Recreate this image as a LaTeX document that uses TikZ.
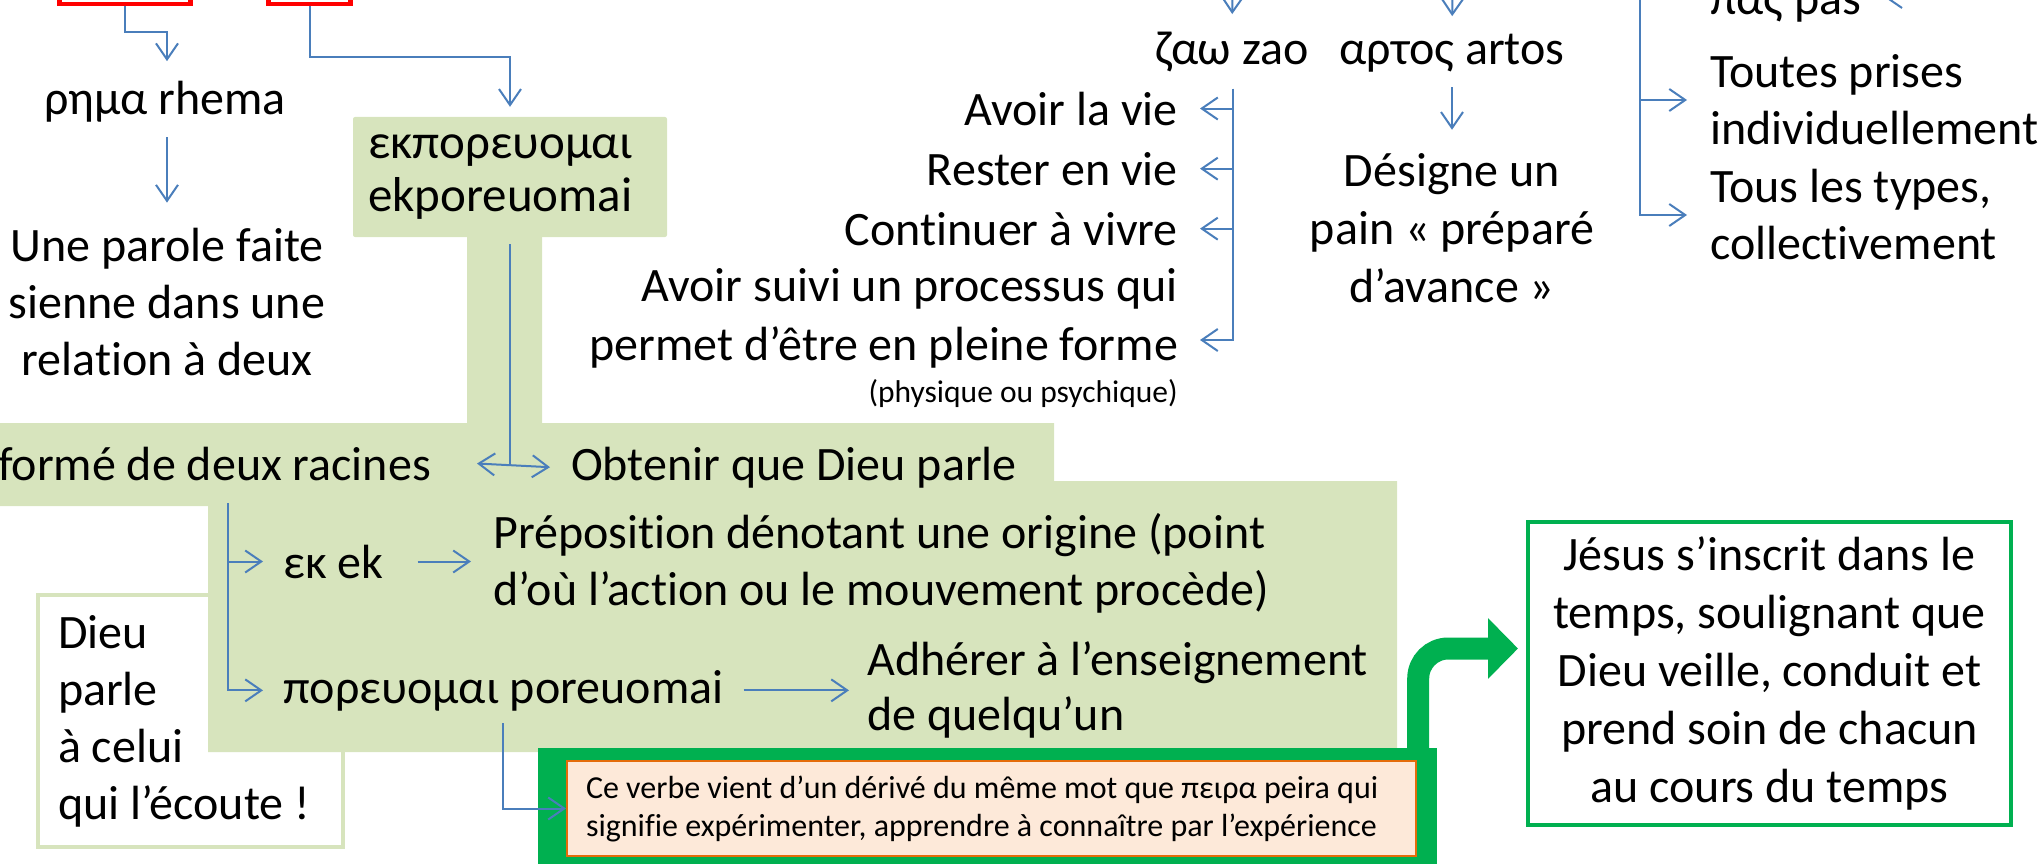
\documentclass[tikz,border=0pt]{standalone}
\usepackage{fontspec}
\setmainfont{Carlito}[Ligatures={TeX,CommonOff}]
\usetikzlibrary{positioning,arrows.meta}

\definecolor{fleche}{HTML}{4A7EBB}
\definecolor{vertpale}{HTML}{D7E4BD}
\definecolor{vertvif}{HTML}{00B050}
\definecolor{peche}{HTML}{FDE9D9}
\definecolor{orangebord}{HTML}{E46C0A}

\newcommand{\grand}{\fontsize{48}{57}\selectfont}
\newcommand{\petit}{\fontsize{32}{38}\selectfont}

\tikzset{
  conn/.style={draw=fleche,line width=2pt,-{Straight Barb[length=16pt,width=22pt,line width=2pt]}},
  connboth/.style={draw=fleche,line width=2pt,{Straight Barb[length=16pt,width=22pt,line width=2pt]}-{Straight Barb[length=16pt,width=22pt,line width=2pt]}},
  trait/.style={draw=fleche,line width=2pt},
  cadrerouge/.style={draw=red,line width=4.5pt},
  mot/.style={inner xsep=20pt},
}

\begin{document}
\begin{tikzpicture}[x=1pt,y=-1pt,font=\grand]
  \useasboundingbox (0,0) rectangle (2039,864);

  % boite blanche, sous le fond vert
  \node at (190.5,721) [draw=vertpale,line width=4pt,fill=white,minimum width=305pt,minimum height=252pt,text width=265pt,align=flush left,inner sep=0pt] (dieu) {Dieu\\parle\\à celui\\qui l’écoute !};

  % fond vert
  \fill[vertpale] (467,230) rectangle (542,430)
                  (-10,423) rectangle (1054,506)
                  (208,481) rectangle (1397,752);
  \node at (510,177) [fill=vertpale,rounded corners=2pt,minimum width=314pt,minimum height=120pt,text width=284pt,align=flush left,inner sep=0pt,font=\fontsize{49}{53}\selectfont] (ekpo) {εκπορευομαι\\ekporeuomai};

  % cadre vert et encadre orange
  \node at (987.5,814) [fill=vertvif,minimum width=899pt,minimum height=132pt,inner sep=0pt] (cadre) {};
  \node at (991.5,808.5) [fill=peche,draw=orangebord,line width=2pt,minimum width=849pt,minimum height=95pt,text width=811pt,align=flush left,inner sep=0pt,font=\petit] (verbe) {Ce verbe vient d’un dérivé du même mot que πειρα peira qui\\signifie expérimenter, apprendre à connaître par l’expérience};

  \node at (1769.5,673.5) [draw=vertvif,line width=4pt,minimum width=483pt,minimum height=303pt,align=center,inner sep=0pt,font=\fontsize{48}{58}\selectfont] (jesus) {Jésus s’inscrit dans le\\temps, soulignant que\\Dieu veille, conduit et\\prend soin de chacun\\au cours du temps};

  % mots du verset
  \node at (125,-27) [cadrerouge,minimum width=131pt,minimum height=62pt] (verset1) {};
  \node at (309.5,-27) [cadrerouge,minimum width=82pt,minimum height=62pt] (verset2) {};

  \node at (165,115) [anchor=base] (rhema) {ρημα rhema};
  \node at (167,302) [align=center] (parole) {Une parole faite\\sienne dans une\\relation à deux};
  \node at (477,480) [anchor=base east,inner xsep=46pt] (forme) {formé de deux racines};
  \node at (550,480) [anchor=base west,inner xsep=21pt] (obtenir) {Obtenir que Dieu parle};
  \node at (263,578) [anchor=base west,mot] (ek) {εκ ek};
  \node at (471,563) [anchor=west,inner xsep=22pt,align=left] (prepo) {Préposition dénotant une origine (point\\d’où l’action ou le mouvement procède)};
  \node at (263,703) [anchor=base west,mot] (poreu) {πορευομαι poreuomai};
  \node at (849,690) [anchor=west,inner xsep=18pt,align=left,font=\fontsize{48}{55}\selectfont] (adherer) {Adhérer à l’enseignement\\de quelqu’un};

  \node at (1232,65) [anchor=base] (zao) {ζαω zao};
  \node at (1452,65) [anchor=base] (artos) {αρτος artos};
  \node at (1200,125) [anchor=base east,inner xsep=22pt] (vie1) {Avoir la vie};
  \node at (1200,185) [anchor=base east,inner xsep=22pt] (vie2) {Rester en vie};
  \node at (1200,245) [anchor=base east,inner xsep=22pt] (vie3) {Continuer à vivre};
  \node at (1200,318) [anchor=east,inner xsep=22pt,align=right,font=\fontsize{48}{59}\selectfont] (vie4) {Avoir suivi un processus qui\\permet d’être en pleine forme};
  \node at (1178,402) [anchor=base east,inner sep=0pt,font=\fontsize{31.5}{36}\selectfont] (physique) {(physique ou psychique)};
  \node at (1452,228) [align=center,font=\fontsize{48}{58}\selectfont] (designe) {Désigne un\\pain « préparé\\d’avance »};
  \node at (1687,15) [anchor=base west,inner xsep=23pt] (pas) {πας pas};
  \node at (1687,100) [anchor=west,inner xsep=23pt,align=left] (toutes) {Toutes prises\\individuellement};
  \node at (1687,215) [anchor=west,inner xsep=23pt,align=left] (tous) {Tous les types,\\collectivement};

  \coordinate (zaoin) at (1233,-40);
  \coordinate (artosin) at (1453,-40);
  \coordinate (zaobar) at (1233,89);
  \coordinate (racine) at (228,503);
  \coordinate (pastop) at (1640,-40);
  \coordinate (pasin) at (1940,-3);

  \draw[conn,shorten >=17pt] (verset1.south) -- ++(0,26) -| (parole.north |- rhema.north);
  \draw[conn] (verset2.south) -- ++(0,51) -| ([yshift=10pt]ekpo.north);
  \draw[conn,shorten <=11pt] (parole.north |- rhema.south) -- ([yshift=22pt]parole.north);
  \draw[trait] ([yshift=-7pt]ekpo.south) -- (ekpo.south |- forme.east);
  \draw[connboth] (forme.east) -- (obtenir.west);
  \draw[conn] (racine) |- (ek.west);
  \draw[conn] (racine) |- (poreu.west);
  \draw[conn,shorten <=14pt] (ek.east) -- (ek.east -| prepo.west);
  \draw[conn] (poreu.east) -- (poreu.east -| adherer.west);
  \draw[conn,shorten <=9pt] (poreu.south) |- (verbe.west);

  \draw[conn,shorten >=15pt] (zaoin) -- (zao.north);
  \draw[conn,shorten >=15pt] (artosin) -- (artos.north);
  \draw[conn] (zaobar) |- (vie1.east);
  \draw[conn] (zaobar) |- (vie2.east);
  \draw[conn] (zaobar) |- (vie3.east);
  \draw[conn] (zaobar) |- ([yshift=-22pt]vie4.east);
  \draw[conn,shorten <=11pt,shorten >=20pt] (artos.south) -- (designe.north);
  \draw[conn] (pastop) |- (toutes.west);
  \draw[conn] (pastop) |- (tous.west);
  \draw[conn] (pasin) -- (pas.east |- pasin);

  \draw[vertvif,line width=22pt,rounded corners=30pt,-{Triangle[length=30pt,width=59pt]},shorten >=8pt] ([xshift=-19pt]cadre.north east) |- ([yshift=25pt]jesus.west);
\end{tikzpicture}
\end{document}
